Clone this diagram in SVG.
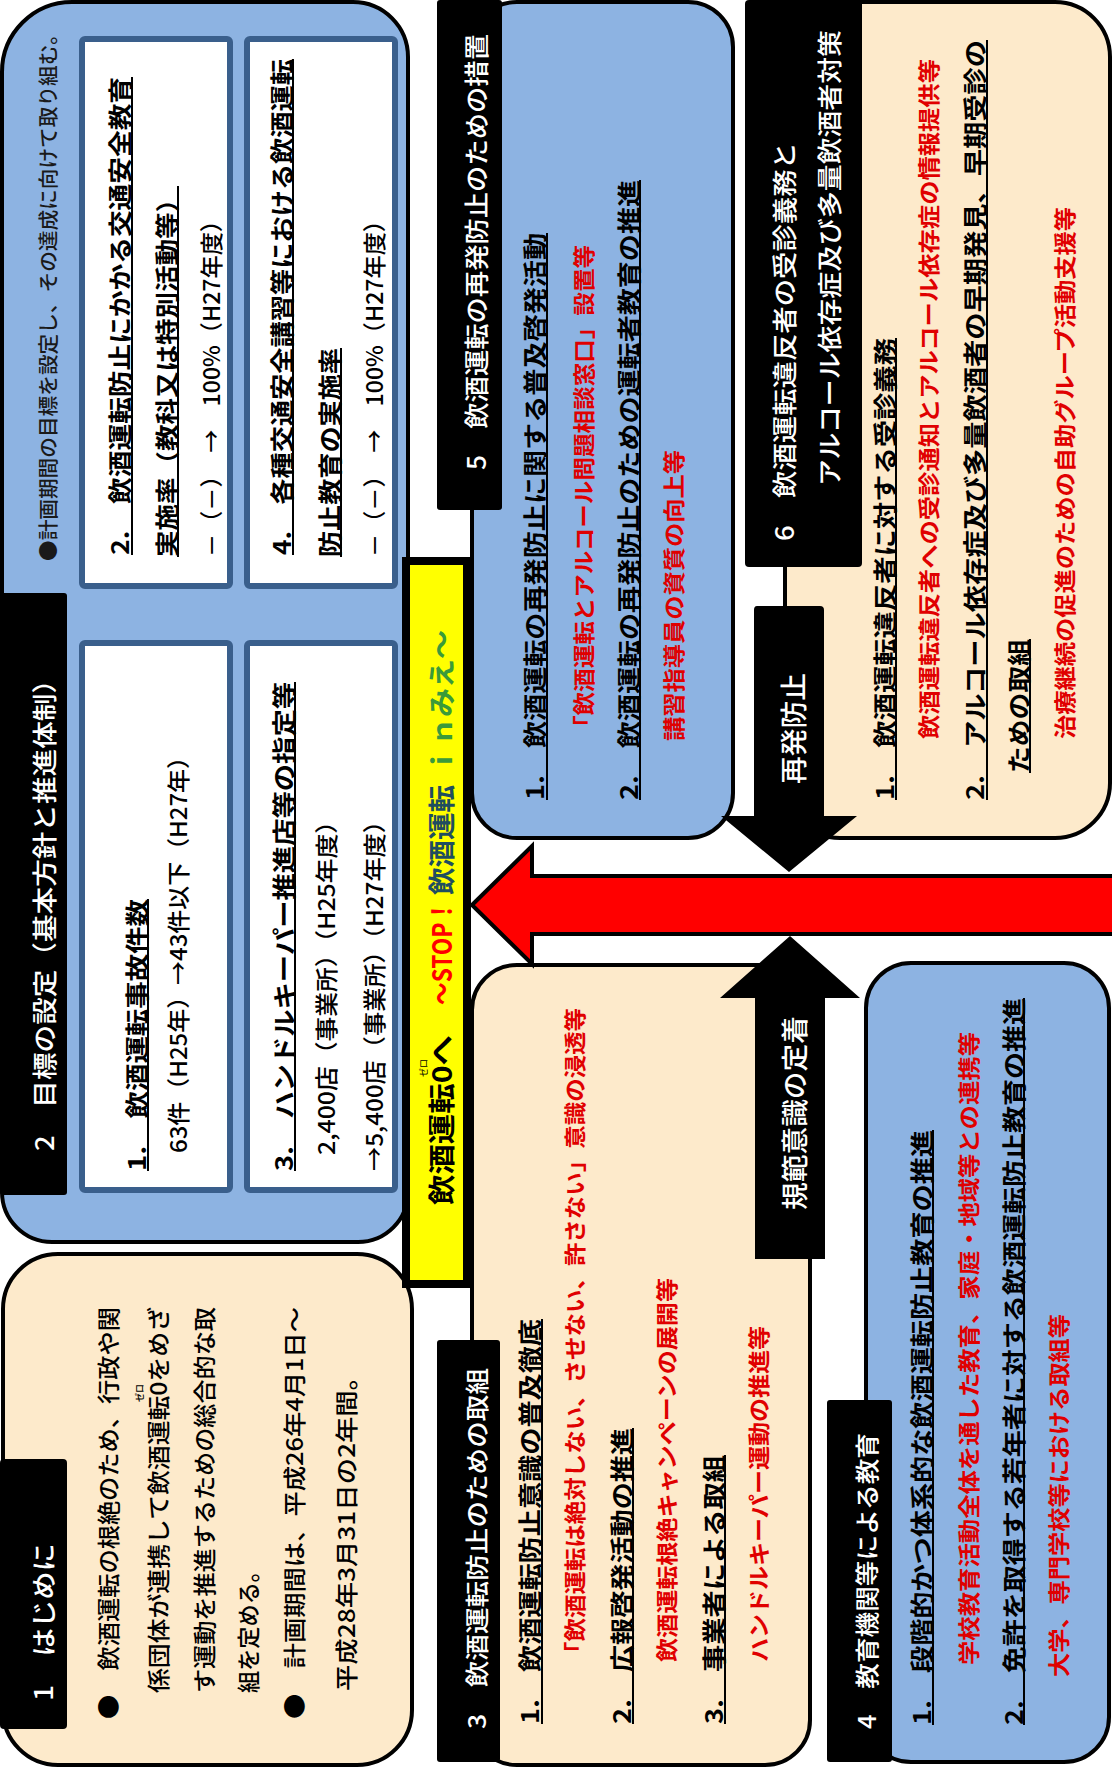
<svg xmlns="http://www.w3.org/2000/svg" width="1112" height="1769" viewBox="0 0 1112 1769">
<style>
.bb{fill:#8DB3E2;stroke:#000;stroke-width:4}
.be{fill:#FDEACB;stroke:#000;stroke-width:4}
.hd{fill:#000}
.in{fill:#fff;stroke:#3A5F8C;stroke-width:6}
text{font-family:"Noto Sans CJK JP","Noto Sans",sans-serif;dominant-baseline:central}
.h{fill:#fff;font-size:25px;font-weight:500}
.k{fill:#000;font-size:24px;font-weight:700}
.r{fill:#E00000;font-size:22px;font-weight:700}
.n{fill:#000;font-size:23px;font-weight:500}
.s{fill:#1a1a1a;font-size:20px;font-weight:500}
.ul{stroke:#000;stroke-width:2}
.y{font-size:27px;font-weight:700}
</style>
<rect width="1112" height="1769" fill="#fff"/>

<g id="sec2">
<path class="bb" d="M72,2 H353 A55,55 0 0 1 408,57 V1192 A50,50 0 0 1 358,1242 H52 A50,50 0 0 1 2,1192 V72 A70,70 0 0 1 72,2 Z"/>
<rect class="hd" x="0" y="593" width="67" height="602" rx="3"/>
<text class="h" transform="translate(43,1151) rotate(-90)" textLength="485" lengthAdjust="spacingAndGlyphs">2　目標の設定（基本方針と推進体制）</text>
<text class="s" transform="translate(47,561) rotate(-90)" textLength="537" lengthAdjust="spacingAndGlyphs">●計画期間の目標を設定し、その達成に向けて取り組む。</text>
<g id="target2">
<rect class="in" x="82" y="39" width="148" height="547" rx="3"/>
<text class="k" transform="translate(118,555) rotate(-90)" textLength="478" lengthAdjust="spacingAndGlyphs">2.　飲酒運転防止にかかる交通安全教育</text>
<line class="ul" x1="132" y1="555" x2="132" y2="77"/>
<text class="k" transform="translate(165,557) rotate(-90)" textLength="371" lengthAdjust="spacingAndGlyphs">実施率（教科又は特別活動等）</text>
<line class="ul" x1="178" y1="557" x2="178" y2="186"/>
<text class="n" transform="translate(210,557) rotate(-90)" textLength="348" lengthAdjust="spacingAndGlyphs">－（－）　→　100%（H27年度）</text>
</g>
<g id="target4">
<rect class="in" x="247" y="39" width="148" height="547" rx="3"/>
<text class="k" transform="translate(280,555) rotate(-90)" textLength="496" lengthAdjust="spacingAndGlyphs">4.　各種交通安全講習等における飲酒運転</text>
<line class="ul" x1="293" y1="555" x2="293" y2="59"/>
<text class="k" transform="translate(328,557) rotate(-90)" textLength="209" lengthAdjust="spacingAndGlyphs">防止教育の実施率</text>
<line class="ul" x1="341" y1="557" x2="341" y2="348"/>
<text class="n" transform="translate(373,557) rotate(-90)" textLength="348" lengthAdjust="spacingAndGlyphs">－（－）　→　100%（H27年度）</text>
</g>
<g id="target1">
<rect class="in" x="82" y="643" width="148" height="547" rx="3"/>
<text class="k" transform="translate(135,1171) rotate(-90)" textLength="272" lengthAdjust="spacingAndGlyphs">1.　飲酒運転事故件数</text>
<line class="ul" x1="148" y1="1171" x2="148" y2="899"/>
<text class="n" transform="translate(177,1153) rotate(-90)" textLength="408" lengthAdjust="spacingAndGlyphs">63件（H25年）→43件以下（H27年）</text>
</g>
<g id="target3">
<rect class="in" x="247" y="643" width="148" height="547" rx="3"/>
<text class="k" transform="translate(282,1171) rotate(-90)" textLength="489" lengthAdjust="spacingAndGlyphs">3.　ハンドルキーパー推進店等の指定等</text>
<line class="ul" x1="295" y1="1171" x2="295" y2="682"/>
<text class="n" transform="translate(325,1155) rotate(-90)" textLength="346" lengthAdjust="spacingAndGlyphs">2,400店（事業所）（H25年度）</text>
<text class="n" transform="translate(373,1171) rotate(-90)" textLength="362" lengthAdjust="spacingAndGlyphs">→5,400店（事業所）（H27年度）</text>
</g>
</g>

<g id="sec1">
<rect class="be" x="3" y="1254" width="409" height="511" rx="55"/>
<rect class="hd" x="0" y="1459" width="67" height="270" rx="4"/>
<text class="h" transform="translate(42,1701) rotate(-90)" textLength="158" lengthAdjust="spacingAndGlyphs">1　はじめに</text>
<text class="n" transform="translate(107,1719) rotate(-90)" textLength="412" lengthAdjust="spacingAndGlyphs">●　飲酒運転の根絶のため、行政や関</text>
<text class="n" transform="translate(157,1693) rotate(-90)" textLength="386" lengthAdjust="spacingAndGlyphs">係団体が連携して飲酒運転0をめざ</text>
<text class="n" style="font-size:9px" transform="translate(139,1393) rotate(-90)" text-anchor="middle">ゼロ</text>
<text class="n" transform="translate(203,1693) rotate(-90)" textLength="386" lengthAdjust="spacingAndGlyphs">す運動を推進するための総合的な取</text>
<text class="n" transform="translate(247,1693) rotate(-90)" textLength="133" lengthAdjust="spacingAndGlyphs">組を定める。</text>
<text class="n" transform="translate(293,1719) rotate(-90)" textLength="412" lengthAdjust="spacingAndGlyphs">●　計画期間は、平成26年4月1日～</text>
<text class="n" transform="translate(345,1691) rotate(-90)" textLength="327" lengthAdjust="spacingAndGlyphs">平成28年3月31日の2年間。</text>
</g>

<g id="slogan">
<rect x="406" y="561" width="61" height="723" fill="#FFFF00" stroke="#000" stroke-width="8"/>
<text class="y" fill="#000" transform="translate(440,1205) rotate(-90)" textLength="170" lengthAdjust="spacingAndGlyphs">飲酒運転0へ</text>
<text fill="#000" style="font-size:9px" transform="translate(423,1068) rotate(-90)" text-anchor="middle">ゼロ</text>
<text class="y" fill="#FF0000" transform="translate(440,1005) rotate(-90)" textLength="105" lengthAdjust="spacingAndGlyphs">～STOP！</text>
<text class="y" fill="#1F4E5F" transform="translate(440,895) rotate(-90)" textLength="110" lengthAdjust="spacingAndGlyphs">飲酒運転</text>
<text class="y" fill="#3A9A3A" transform="translate(440,775) rotate(-90)" textLength="145" lengthAdjust="spacingAndGlyphs">ｉｎみえ～</text>
</g>

<g id="sec5">
<rect class="bb" x="472" y="2" width="261" height="836" rx="45"/>
<rect class="hd" x="437" y="0" width="65" height="510" rx="3"/>
<text class="h" transform="translate(475,470) rotate(-90)" textLength="436" lengthAdjust="spacingAndGlyphs">5　飲酒運転の再発防止のための措置</text>
<text class="k" transform="translate(533,800) rotate(-90)" textLength="567" lengthAdjust="spacingAndGlyphs">1.　飲酒運転の再発防止に関する普及啓発活動</text>
<line class="ul" x1="547" y1="800" x2="547" y2="233"/>
<text class="r" transform="translate(582,739) rotate(-90)" textLength="494" lengthAdjust="spacingAndGlyphs">「飲酒運転とアルコール問題相談窓口」設置等</text>
<text class="k" transform="translate(627,800) rotate(-90)" textLength="620" lengthAdjust="spacingAndGlyphs">2.　飲酒運転の再発防止のための運転者教育の推進</text>
<line class="ul" x1="640" y1="800" x2="640" y2="180"/>
<text class="r" transform="translate(672,741) rotate(-90)" textLength="291" lengthAdjust="spacingAndGlyphs">講習指導員の資質の向上等</text>
</g>

<g id="sec6">
<rect class="be" x="785" y="2" width="325" height="836" rx="55"/>
<rect class="hd" x="745" y="0" width="117" height="567" rx="4"/>
<text class="h" transform="translate(783,541) rotate(-90)" textLength="399" lengthAdjust="spacingAndGlyphs">6　飲酒運転違反者の受診義務と</text>
<text class="h" transform="translate(828,486) rotate(-90)" textLength="456" lengthAdjust="spacingAndGlyphs">アルコール依存症及び多量飲酒者対策</text>
<text class="k" transform="translate(883,800) rotate(-90)" textLength="462" lengthAdjust="spacingAndGlyphs">1.　飲酒運転違反者に対する受診義務</text>
<line class="ul" x1="896" y1="800" x2="896" y2="338"/>
<text class="r" transform="translate(927,739) rotate(-90)" textLength="680" lengthAdjust="spacingAndGlyphs">飲酒運転違反者への受診通知とアルコール依存症の情報提供等</text>
<text class="k" transform="translate(973,800) rotate(-90)" textLength="760" lengthAdjust="spacingAndGlyphs">2.　アルコール依存症及び多量飲酒者の早期発見、早期受診の</text>
<line class="ul" x1="987" y1="800" x2="987" y2="40"/>
<text class="k" transform="translate(1017,773) rotate(-90)" textLength="134" lengthAdjust="spacingAndGlyphs">ための取組</text>
<line class="ul" x1="1030" y1="773" x2="1030" y2="639"/>
<text class="r" transform="translate(1063,739) rotate(-90)" textLength="532" lengthAdjust="spacingAndGlyphs">治療継続の促進のための自助グループ活動支援等</text>
</g>

<g id="sec3">
<rect class="be" x="472" y="965" width="338" height="800" rx="45"/>
<rect class="hd" x="437" y="1340" width="63" height="422" rx="3"/>
<text class="h" style="font-size:24px" transform="translate(475,1729) rotate(-90)" textLength="361" lengthAdjust="spacingAndGlyphs">3　飲酒運転防止のための取組</text>
<text class="k" transform="translate(528,1724) rotate(-90)" textLength="405" lengthAdjust="spacingAndGlyphs">1.　飲酒運転防止意識の普及徹底</text>
<line class="ul" x1="542" y1="1724" x2="542" y2="1319"/>
<text class="r" transform="translate(573,1665) rotate(-90)" textLength="657" lengthAdjust="spacingAndGlyphs">「飲酒運転は絶対しない、させない、許さない」意識の浸透等</text>
<text class="k" transform="translate(620,1724) rotate(-90)" textLength="296" lengthAdjust="spacingAndGlyphs">2.　広報啓発活動の推進</text>
<line class="ul" x1="633" y1="1724" x2="633" y2="1428"/>
<text class="r" transform="translate(665,1662) rotate(-90)" textLength="384" lengthAdjust="spacingAndGlyphs">飲酒運転根絶キャンペーンの展開等</text>
<text class="k" transform="translate(712,1724) rotate(-90)" textLength="269" lengthAdjust="spacingAndGlyphs">3.　事業者による取組</text>
<line class="ul" x1="725" y1="1724" x2="725" y2="1455"/>
<text class="r" transform="translate(757,1662) rotate(-90)" textLength="336" lengthAdjust="spacingAndGlyphs">ハンドルキーパー運動の推進等</text>
</g>

<g id="sec4">
<rect class="bb" x="866" y="963" width="243" height="799" rx="45"/>
<rect class="hd" x="827" y="1400" width="65" height="362" rx="3"/>
<text class="h" style="font-size:24px" transform="translate(865,1729) rotate(-90)" textLength="296" lengthAdjust="spacingAndGlyphs">4　教育機関等による教育</text>
<text class="k" transform="translate(920,1725) rotate(-90)" textLength="595" lengthAdjust="spacingAndGlyphs">1.　段階的かつ体系的な飲酒運転防止教育の推進</text>
<line class="ul" x1="933" y1="1725" x2="933" y2="1130"/>
<text class="r" transform="translate(967,1665) rotate(-90)" textLength="633" lengthAdjust="spacingAndGlyphs">学校教育活動全体を通した教育、家庭・地域等との連携等</text>
<text class="k" transform="translate(1012,1725) rotate(-90)" textLength="727" lengthAdjust="spacingAndGlyphs">2.　免許を取得する若年者に対する飲酒運転防止教育の推進</text>
<line class="ul" x1="1024" y1="1725" x2="1024" y2="998"/>
<text class="r" transform="translate(1057,1677) rotate(-90)" textLength="363" lengthAdjust="spacingAndGlyphs">大学、専門学校等における取組等</text>
</g>

<g id="connectors">
<polygon points="472,905 532,846 532,876 1116,876 1116,934 532,934 532,964" fill="#FF0000" stroke="#000" stroke-width="4" stroke-linejoin="miter"/>
<g id="arrow-down">
<path d="M757,606 H820 Q824,606 824,610 V816 H857 L789,872 L721,816 H754 V610 Q754,606 757,606 Z" fill="#000"/>
<text class="h" style="font-size:27px" transform="translate(792,784) rotate(-90)" textLength="111" lengthAdjust="spacingAndGlyphs">再発防止</text>
</g>
<g id="arrow-up">
<polygon points="790,936 860,998 825,998 825,1259 755,1259 755,998 720,998" fill="#000"/>
<text class="h" style="font-size:27px" transform="translate(793,1210) rotate(-90)" textLength="194" lengthAdjust="spacingAndGlyphs">規範意識の定着</text>
</g>
</g>
</svg>
